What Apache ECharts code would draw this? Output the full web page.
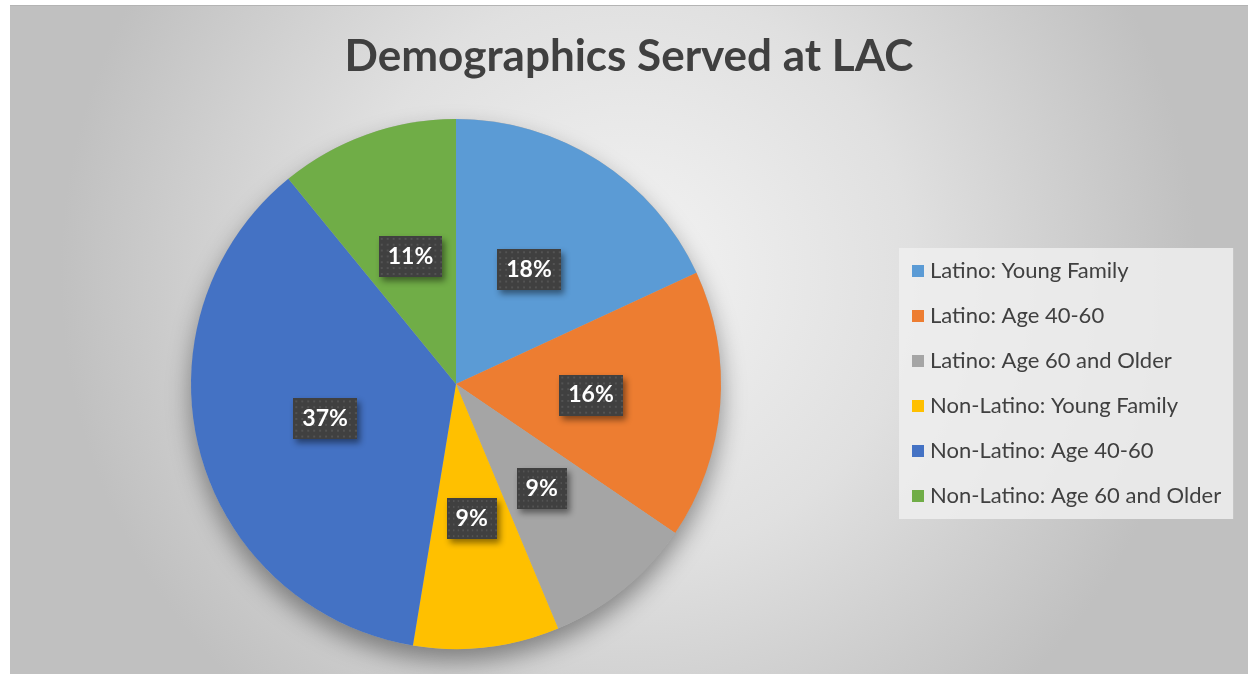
<!DOCTYPE html>
<html>
<head>
<meta charset="utf-8">
<title>Demographics Served at LAC</title>
<script src="https://cdn.jsdelivr.net/npm/echarts@6/dist/echarts.min.js"></script>
<style>
  html, body {
    margin: 0;
    padding: 0;
    background: #fff;
    width: 1248px;
    height: 674px;
    overflow: hidden;
  }
  #chart {
    position: absolute;
    left: 10px;
    top: 5px;
    width: 1238px;
    height: 669px;
    border-top: 1px solid #b4b4b4;
  }
</style>
</head>
<body>
<div id="chart"></div>
<script>
// categories and shares (labels show rounded percent)
const categories = [
  'Latino: Young Family',
  'Latino: Age 40-60',
  'Latino: Age 60 and Older',
  'Non-Latino: Young Family',
  'Non-Latino: Age 40-60',
  'Non-Latino: Age 60 and Older'
]
const shares = [18.1, 16.4, 9.2, 8.9, 36.5, 10.9]
const sliceColors = ['#5B9BD5', '#ED7D31', '#A5A5A5', '#FFC000', '#4472C4', '#70AD47']

const FONT = 'Lato, "Open Sans", sans-serif'

// dotted dark fill for the data label boxes
function makeDotPattern() {
  const c = document.createElement('canvas')
  c.width = 64
  c.height = 42
  const ctx = c.getContext('2d')
  ctx.fillStyle = '#404040'
  ctx.fillRect(0, 0, c.width, c.height)
  ctx.fillStyle = '#535353'
  for (let y = 2; y < c.height; y += 6) {
    for (let x = 2; x < c.width; x += 6) {
      ctx.fillRect(x, y, 2, 2)
    }
  }
  return c
}

const chart = echarts.init(document.getElementById('chart'))

const option = {
  backgroundColor: {
    type: 'radial',
    x: 0.5,
    y: 0.4,
    r: 0.85,
    colorStops: [
      { offset: 0, color: '#f3f3f3' },
      { offset: 0.5, color: '#e0e0e0' },
      { offset: 1, color: '#c0c0c0' }
    ]
  },
  animation: false,
  title: {
    text: 'Demographics Served at LAC',
    left: 'center',
    top: 24,
    textStyle: {
      fontFamily: FONT,
      fontSize: 44,
      fontWeight: 'bold',
      color: '#404040'
    }
  },
  legend: {
    orient: 'vertical',
    left: 889,
    top: 242,
    data: categories,
    icon: 'rect',
    itemWidth: 12,
    itemHeight: 12,
    itemGap: 21,
    padding: [11, 12, 11, 13],
    backgroundColor: 'rgba(238,238,238,0.85)',
    textStyle: {
      fontFamily: FONT,
      fontSize: 22,
      lineHeight: 24,
      color: '#404040',
      padding: [0, 0, 0, 1]
    }
  },
  series: [
    {
      // soft drop shadow under the pie
      type: 'pie',
      silent: true,
      center: [446, 378],
      radius: 265,
      z: 1,
      label: { show: false },
      labelLine: { show: false },
      itemStyle: {
        color: '#b0b0b0',
        shadowBlur: 24,
        shadowOffsetY: 12,
        shadowColor: 'rgba(0,0,0,0.4)'
      },
      data: [{ value: 1, name: '' }]
    },
    {
      type: 'pie',
      center: [446, 378],
      radius: 265,
      startAngle: 90,
      clockwise: true,
      percentPrecision: 0,
      z: 2,
      itemStyle: {
        borderWidth: 0
      },
      label: {
        show: true,
        position: 'inside',
        formatter: '{d}%',
        fontFamily: FONT,
        fontSize: 23,
        fontWeight: 'bold',
        color: '#fff',
        backgroundColor: { image: makeDotPattern() },
        padding: [10, 9, 8, 9],
        shadowBlur: 6,
        shadowOffsetX: 3,
        shadowOffsetY: 4,
        shadowColor: 'rgba(0,0,0,0.45)'
      },
      labelLine: { show: false },
      data: categories.map((name, i) => ({
        name: name,
        value: shares[i],
        itemStyle: { color: sliceColors[i] }
      }))
    }
  ]
}

chart.setOption(option)
</script>
</body>
</html>
